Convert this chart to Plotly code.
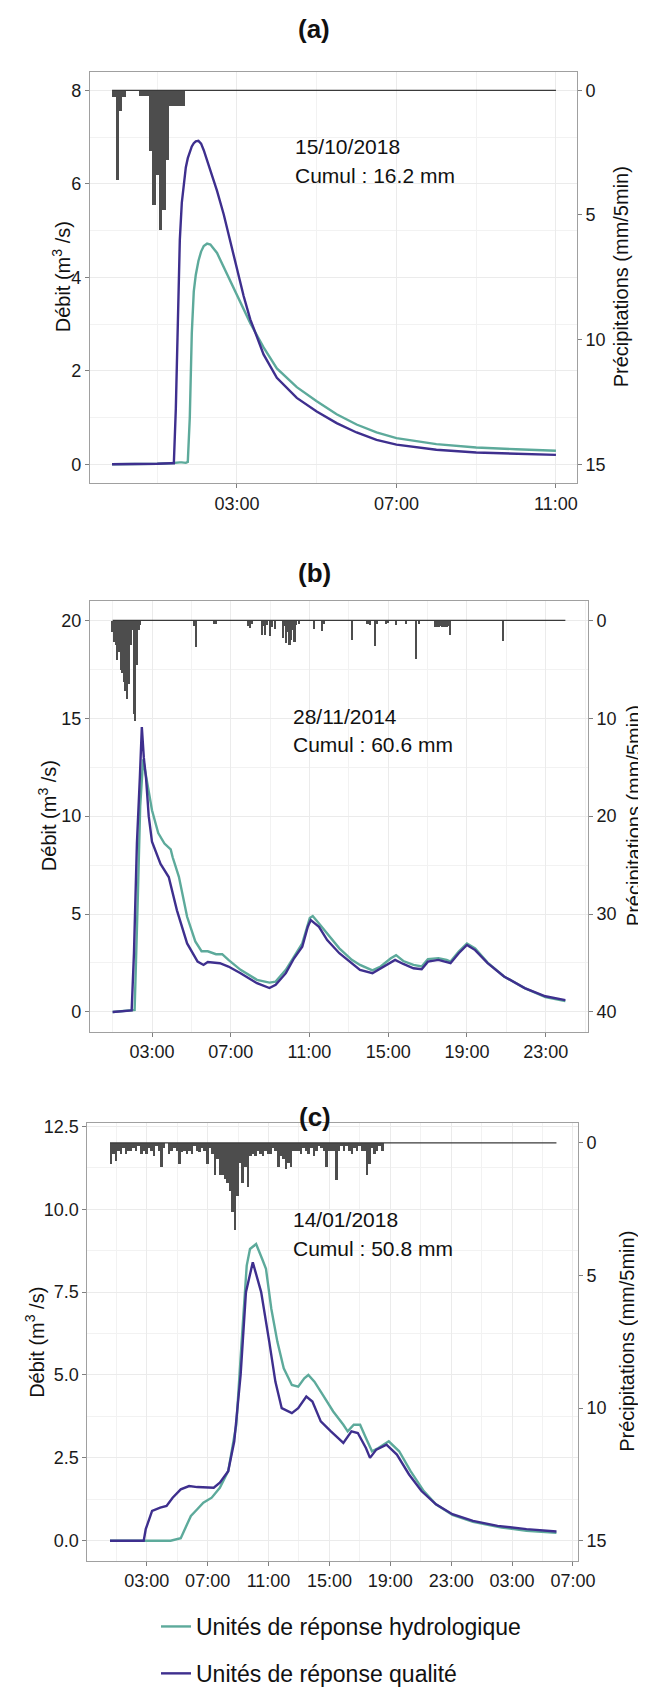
import plotly.graph_objects as go
import pandas as pd

FONT = "Liberation Sans, Arial, sans-serif"
TEAL = "#5DAA9B"
PURPLE = "#3E2F8E"
RAIN_COLOR = "#4D4D4D"
W, H = 646, 1687

# ---------------- data: panel (a) 15/10/2018 ----------------
A_BASE = "2018-10-15"
A_TIME = ["-1 23:52", "00:30", "01:00", "01:20", "01:25", "01:28", "01:31", "01:34", "01:37", "01:40",
          "01:43", "01:46", "01:49", "01:52", "01:55", "01:58", "02:02", "02:06", "02:10", "02:15",
          "02:20", "02:30", "02:40", "02:50", "03:00", "03:10", "03:20", "03:40", "04:00", "04:30",
          "05:00", "05:30", "06:00", "06:30", "07:00", "08:00", "09:00", "10:00", "11:00"]
A_QUAL = [0, 0, 0.01, 0.02, 0.02, 1.2, 3.2, 4.8, 5.6, 6.05,
          6.35, 6.55, 6.7, 6.8, 6.87, 6.91, 6.92, 6.86, 6.72, 6.5,
          6.25, 5.85, 5.35, 4.75, 4.2, 3.6, 3.1, 2.35, 1.85, 1.42,
          1.13, 0.88, 0.68, 0.52, 0.42, 0.31, 0.25, 0.22, 0.2]
A_HYD = [0, 0, 0.01, 0.02, 0.03, 0.04, 0.04, 0.04, 0.04, 0.03,
         0.03, 0.05, 1.0, 2.8, 3.7, 4.05, 4.35, 4.55, 4.67, 4.72,
         4.7, 4.52, 4.22, 3.92, 3.6, 3.3, 3.02, 2.5, 2.05, 1.65,
         1.35, 1.07, 0.85, 0.68, 0.56, 0.43, 0.36, 0.32, 0.29]
A_RAIN_T = ["-1 23:55", "00:00", "00:05", "00:10", "00:35", "00:40", "00:45", "00:50", "00:55",
            "01:00", "01:05", "01:10", "01:15", "01:20", "01:25", "01:30", "01:35", "01:40"]
A_RAIN = [0.25, 3.6, 0.8, 0.25, 0.2, 0.2, 0.2, 2.4, 4.6,
          3.4, 5.6, 4.8, 2.8, 0.6, 0.6, 0.6, 0.6, 0.6]

# ---------------- data: panel (b) 28/11/2014 ----------------
B_BASE = "2014-11-28"
B_T_QUAL = ["01:00", "01:50", "01:58", "02:05", "02:14", "02:23", "02:29", "02:35", "02:42", "02:50",
            "03:00", "03:26", "03:51", "04:16", "04:47", "05:19", "05:37", "05:50", "06:27", "06:53",
            "07:30", "08:20", "08:58", "09:17", "09:48", "10:13", "10:38", "10:55", "11:04", "11:29",
            "11:54", "12:31", "13:09", "13:34", "14:12", "14:37", "15:08", "15:21", "15:46", "16:17",
            "16:42", "17:01", "17:33", "17:58", "18:10", "18:35", "19:00", "19:25", "20:03", "20:53",
            "21:56", "22:59", "+1 00:00"]
B_QUAL = [0, 0.05, 0.08, 3.0, 8.6, 12.0, 14.55, 13.0, 11.9, 10.0,
          8.7, 7.56, 6.89, 5.19, 3.5, 2.57, 2.4, 2.55, 2.49, 2.32,
          1.98, 1.47, 1.22, 1.39, 1.98, 2.74, 3.33, 4.35, 4.69, 4.35,
          3.67, 3.0, 2.49, 2.15, 1.98, 2.23, 2.57, 2.66, 2.45, 2.23,
          2.18, 2.57, 2.66, 2.57, 2.49, 3.0, 3.42, 3.16, 2.49, 1.81,
          1.22, 0.8, 0.6]
B_T_HYD = ["01:00", "02:07", "02:17", "02:24", "02:33", "02:42", "03:00", "03:19", "03:38", "03:57",
           "04:03", "04:22", "04:47", "05:12", "05:31", "05:50", "06:15", "06:34", "06:53", "07:30",
           "08:20", "08:58", "09:17", "09:48", "10:13", "10:38", "11:01", "11:10", "11:29", "11:54",
           "12:31", "13:09", "13:34", "14:12", "14:37", "15:08", "15:24", "15:46", "16:17", "16:42",
           "17:01", "17:33", "17:58", "18:10", "18:35", "19:00", "19:25", "20:03", "20:53", "21:56",
           "22:59", "+1 00:00"]
B_HYD = [0, 0.1, 6.0, 10.5, 12.9, 12.0, 10.3, 9.14, 8.6, 8.3,
         7.9, 6.9, 4.86, 3.6, 3.1, 3.1, 2.95, 2.95, 2.66, 2.15,
         1.64, 1.5, 1.55, 2.15, 2.83, 3.5, 4.8, 4.9, 4.52, 4.0,
         3.25, 2.66, 2.4, 2.12, 2.32, 2.74, 2.9, 2.6, 2.4, 2.32,
         2.7, 2.75, 2.66, 2.57, 3.08, 3.5, 3.25, 2.52, 1.81, 1.22,
         0.76, 0.55]
B_RAIN_T = ["01:00", "01:05", "01:10", "01:15", "01:20", "01:25", "01:30", "01:35", "01:40", "01:45",
            "01:50", "01:55", "02:00", "02:05", "02:10", "02:15", "02:20", "02:25",
            "05:10", "05:15", "06:10", "06:15", "07:55", "08:00", "08:05",
            "08:35", "08:40", "08:45", "08:50", "09:00", "09:05", "09:15",
            "09:40", "09:45", "09:50", "09:55", "10:00", "10:05", "10:10", "10:15", "10:20", "10:30",
            "11:15", "11:40", "11:45", "13:10", "13:55", "14:00", "14:05", "14:20", "14:25",
            "14:55", "15:00", "15:25", "15:55", "16:25", "16:35",
            "17:25", "17:30", "17:35", "17:40", "17:45", "17:50", "17:55", "18:00", "18:05", "18:10",
            "20:50"]
B_RAIN = [1.2, 2.2, 2.5, 4.0, 3.2, 5.0, 5.4, 6.3, 7.2, 8.0,
          6.5, 2.5, 1.0, 9.5, 10.3, 4.5, 1.0, 0.5,
          0.6, 2.7, 0.3, 0.3, 0.6, 0.8, 0.4,
          1.5, 0.6, 1.5, 0.5, 1.6, 0.7, 0.9,
          1.8, 0.6, 2.3, 1.2, 2.5, 2.0, 1.0, 2.2, 0.5, 0.4,
          0.9, 1.1, 0.4, 2.0, 0.4, 0.3, 0.5, 2.6, 0.4,
          0.3, 0.2, 0.5, 0.4, 3.9, 0.4,
          0.7, 0.7, 0.7, 0.6, 0.7, 0.7, 0.7, 0.7, 0.6, 1.5,
          2.1]

# ---------------- data: panel (c) 14/01/2018 ----------------
C_BASE = "2018-01-14"
C_T_QUAL = ["00:35", "02:48", "02:56", "03:21", "03:53", "04:18", "04:42", "05:14", "05:47", "06:19",
            "07:24", "07:48", "08:21", "08:45", "09:10", "09:31", "09:58", "10:31", "11:03", "11:27",
            "11:52", "12:32", "12:57", "13:29", "13:53", "14:26", "15:06", "15:55", "16:27", "16:52",
            "17:24", "17:40", "18:05", "18:45", "19:26", "20:14", "21:03", "22:00", "23:05", "+1 00:26",
            "+1 02:03", "+1 03:57", "+1 05:55"]
C_QUAL = [0, 0, 0.35, 0.9, 1.0, 1.05, 1.3, 1.55, 1.65, 1.62,
          1.6, 1.75, 2.1, 3.0, 5.0, 7.5, 8.4, 7.5, 6.0, 4.8,
          4.0, 3.85, 4.0, 4.35, 4.2, 3.6, 3.3, 2.95, 3.3, 3.25,
          2.8, 2.5, 2.75, 2.9, 2.6, 2.0, 1.5, 1.1, 0.8, 0.6,
          0.45, 0.35, 0.28]
C_T_HYD = ["00:35", "04:34", "05:14", "05:38", "05:54", "06:19", "06:43", "07:16", "07:48", "08:21",
           "08:53", "09:14", "09:34", "09:47", "10:11", "10:35", "10:50", "11:11", "11:35", "12:00",
           "12:32", "12:57", "13:21", "13:37", "14:01", "14:34", "15:15", "15:55", "16:12", "16:36",
           "17:01", "17:24", "17:48", "18:13", "18:54", "19:35", "20:20", "21:12", "22:00", "23:05",
           "+1 00:26", "+1 02:19", "+1 03:57", "+1 05:55"]
C_HYD = [0, 0, 0.08, 0.5, 0.75, 0.95, 1.15, 1.3, 1.6, 2.1,
         3.5, 6.0, 8.3, 8.8, 8.95, 8.5, 8.2, 7.0, 6.0, 5.2,
         4.7, 4.65, 4.9, 5.0, 4.8, 4.4, 3.9, 3.5, 3.3, 3.5,
         3.5, 3.1, 2.7, 2.8, 3.0, 2.7, 2.1, 1.5, 1.1, 0.78,
         0.57, 0.4, 0.3, 0.24]
C_RAIN_T = ["00:40", "00:50",
            "01:00", "01:10", "01:20", "01:30", "01:40", "01:50",
            "02:00", "02:10", "02:20", "02:30", "02:40", "02:50",
            "03:00", "03:10", "03:20", "03:30", "03:40", "03:50",
            "04:00", "04:10", "04:20", "04:30", "04:40", "04:50",
            "05:00", "05:10", "05:20", "05:30", "05:40", "05:50",
            "06:00", "06:10", "06:20", "06:30", "06:40", "06:50",
            "07:00", "07:10", "07:20", "07:30", "07:40", "07:50",
            "08:00", "08:10", "08:20", "08:30", "08:40", "08:50",
            "09:00", "09:10", "09:20", "09:30", "09:40", "09:50",
            "10:00", "10:10", "10:20", "10:30", "10:40", "10:50",
            "11:00", "11:10", "11:20", "11:30", "11:40", "11:50",
            "12:00", "12:10", "12:20", "12:30", "12:40", "12:50",
            "13:00", "13:10", "13:20", "13:30", "13:40", "13:50",
            "14:00", "14:10", "14:20", "14:30", "14:40", "14:50",
            "15:00", "15:10", "15:20", "15:30", "15:40", "15:50",
            "16:00", "16:10", "16:20", "16:30", "16:40", "16:50",
            "17:00", "17:10", "17:20", "17:30", "17:40", "17:50",
            "18:00", "18:10", "18:20", "18:30"]
C_RAIN = [0.8, 0.4,
          0.7, 0.3, 0.4, 0.2, 0.4, 0.3,
          0.3, 0.2, 0.3, 0.1, 0.4, 0.3,
          0.4, 0.2, 0.3, 0.5, 0.1, 0.3,
          0.9, 0.2, 0.0, 0.4, 0.3, 0.2,
          0.3, 0.8, 0.35, 0.3, 0.4, 0.3,
          0.4, 0.1, 0.3, 0.35, 0.2, 0.3,
          0.8, 0.2, 0.4, 1.2, 0.6, 1.2,
          1.2, 1.35, 1.5, 1.8, 2.6, 3.3,
          2.0, 0.75, 1.5, 0.9, 1.65, 0.5,
          0.4, 0.5, 0.3, 0.4, 0.5, 0.3,
          0.4, 0.4, 0.2, 0.3, 0.9, 0.5,
          0.6, 1.0, 0.75, 0.9, 0.3, 0.3,
          0.3, 0.4, 0.2, 0.3, 0.4, 0.2,
          0.5, 0.3, 0.1, 0.2, 0.3, 0.9,
          0.3, 0.3, 0.3, 1.4, 0.3, 0.1,
          0.3, 0.1, 0.3, 0.4, 0.2, 0.3,
          0.1, 0.3, 0.3, 1.2, 0.8, 0.2,
          0.4, 0.3, 0.1, 0.3]

TITLES = ["(a)", "(b)", "(c)"]
DATES = ["15/10/2018", "28/11/2014", "14/01/2018"]
CUMULS = ["Cumul : 16.2 mm", "Cumul : 60.6 mm", "Cumul : 50.8 mm"]
LEGEND_NAMES = ["Unités de réponse hydrologique", "Unités de réponse qualité"]


def ts(base, clocks):
    out = []
    for c in clocks:
        days = 0
        if " " in c:
            d, c = c.split(" ")
            days = int(d)
        h, m = c.split(":")
        out.append(pd.Timestamp(base) + pd.Timedelta(days=days, hours=int(h), minutes=int(m)))
    return out


panels = [
    dict(base=A_BASE, th=A_TIME, qh=A_HYD, tq=A_TIME, qq=A_QUAL, rt=A_RAIN_T, r=A_RAIN, rw=5,
         yrange=[-0.4, 8.4], ytick=[0, 2, 4, 6, 8], ydt=1, yfmt=None, qtop=8, rbot=15, rtick=[0, 5, 10, 15],
         xrange=["2018-10-14 23:18:50", "2018-10-15 11:31:40"], tick0="2018-10-15 03:00",
         px=(82, 569), py=(64, 477.5)),
    dict(base=B_BASE, th=B_T_HYD, qh=B_HYD, tq=B_T_QUAL, qq=B_QUAL, rt=B_RAIN_T, r=B_RAIN, rw=5,
         yrange=[-1, 21], ytick=[0, 5, 10, 15, 20], ydt=2.5, yfmt=None, qtop=20, rbot=40,
         rtick=[0, 10, 20, 30, 40],
         xrange=["2014-11-27 23:51", "2014-11-29 01:09"], tick0="2014-11-28 03:00",
         px=(82, 580), py=(596, 1029)),
    dict(base=C_BASE, th=C_T_HYD, qh=C_HYD, tq=C_T_QUAL, qq=C_QUAL, rt=C_RAIN_T, r=C_RAIN, rw=10,
         yrange=[-0.6, 12.6], ytick=[0, 2.5, 5, 7.5, 10, 12.5], ydt=1.25, yfmt=".1f", qtop=12, rbot=15,
         rtick=[0, 5, 10, 15],
         xrange=["2018-01-13 23:06", "2018-01-15 07:20"], tick0="2018-01-14 03:00",
         px=(79.4, 570), py=(1121, 1561)),
]

# annotation placements (pixels)
TITLE_POS = [(306, 21), (306, 568), (307, 1115)]
TEXT_POS = [((285, 139), (285, 168)), ((283, 712), (283, 740)), ((283, 1218), (283, 1247))]
YTITLE_L = [53, 39, 27]
YTITLE_R = [613, 626, 619]


def fx(p):
    return p / W


def fy(p):
    return 1 - p / H


fig = go.Figure()
layout = dict(width=W, height=H, autosize=False, margin=dict(l=0, r=0, t=0, b=0),
              paper_bgcolor="white", plot_bgcolor="white",
              font=dict(family=FONT, size=18, color="#1A1A1A"), showlegend=True)
annotations = []

HOUR = 3600 * 1000
for i, p in enumerate(panels):
    xn = "x" if i == 0 else f"x{i + 1}"
    yl = "y" if i == 0 else f"y{2 * i + 1}"
    yr = f"y{2 * i + 2}"
    xkey = "xaxis" if i == 0 else f"xaxis{i + 1}"
    ylkey = "yaxis" if i == 0 else f"yaxis{2 * i + 1}"
    yrkey = f"yaxis{2 * i + 2}"

    rain_t = ts(p["base"], p["rt"])
    th = ts(p["base"], p["th"])
    tq = ts(p["base"], p["tq"])

    # precipitation bars (secondary, reversed axis)
    fig.add_trace(go.Bar(x=rain_t, y=p["r"], width=[p["rw"] * 60 * 1000] * len(rain_t),
                         marker=dict(color=RAIN_COLOR, line=dict(width=0)),
                         xaxis=xn, yaxis=yr, showlegend=False, hoverinfo="skip"))
    # zero baseline of precipitation
    fig.add_trace(go.Scatter(x=[min(th[0], tq[0]), max(th[-1], tq[-1])], y=[0, 0], mode="lines",
                             line=dict(color="#3A3A3A", width=1.2), xaxis=xn, yaxis=yr,
                             showlegend=False, hoverinfo="skip"))
    # discharge lines
    fig.add_trace(go.Scatter(x=th, y=p["qh"], mode="lines", line=dict(color=TEAL, width=2.4),
                             name=LEGEND_NAMES[0], legendgroup="hyd", showlegend=(i == 0),
                             xaxis=xn, yaxis=yl))
    fig.add_trace(go.Scatter(x=tq, y=p["qq"], mode="lines", line=dict(color=PURPLE, width=2.4),
                             name=LEGEND_NAMES[1], legendgroup="qual", showlegend=(i == 0),
                             xaxis=xn, yaxis=yl))

    xdom = [fx(p["px"][0]), fx(p["px"][1])]
    ydom = [fy(p["py"][1]), fy(p["py"][0])]
    lo, hi = p["yrange"]
    k = p["rbot"] / p["qtop"]
    rrange = [(p["qtop"] - lo) * k, (p["qtop"] - hi) * k]

    layout[xkey] = dict(domain=xdom, anchor=yl, type="date", range=p["xrange"],
                        tickformat="%H:%M", dtick=4 * HOUR, tick0=p["tick0"],
                        showgrid=True, gridcolor="#EBEBEB", gridwidth=1.1,
                        minor=dict(dtick=2 * HOUR, tick0=p["tick0"], showgrid=True,
                                   gridcolor="#F2F2F2", gridwidth=0.7, ticks=""),
                        ticks="outside", ticklen=4, tickcolor="#7F7F7F", tickwidth=1,
                        tickfont=dict(size=18, color="#1A1A1A", family=FONT),
                        showline=True, mirror=True, linecolor="#A0A0A0", linewidth=1.2,
                        zeroline=False, automargin=False, fixedrange=True)
    yl_dict = dict(domain=ydom, anchor=xn, range=p["yrange"], tickvals=p["ytick"],
                   showgrid=True, gridcolor="#EBEBEB", gridwidth=1.1,
                   minor=dict(dtick=p["ydt"], tick0=0, showgrid=True, gridcolor="#F2F2F2",
                              gridwidth=0.7, ticks=""),
                   ticks="outside", ticklen=4, tickcolor="#7F7F7F", tickwidth=1,
                   tickfont=dict(size=18, color="#1A1A1A", family=FONT),
                   showline=True, mirror=True, linecolor="#A0A0A0", linewidth=1.2,
                   zeroline=False, automargin=False, fixedrange=True)
    if p["yfmt"]:
        yl_dict["tickformat"] = p["yfmt"]
    layout[ylkey] = yl_dict
    layout[yrkey] = dict(overlaying=yl, side="right", anchor=xn, range=rrange,
                         tickvals=p["rtick"], showgrid=False, zeroline=False, showline=False,
                         ticks="outside", ticklen=4, tickcolor="#7F7F7F", tickwidth=1,
                         tickfont=dict(size=18, color="#1A1A1A", family=FONT),
                         automargin=False, fixedrange=True)

    # panel title
    tx, ty = TITLE_POS[i]
    annotations.append(dict(text=f"<b>{TITLES[i]}</b>", x=fx(tx), y=fy(ty), xref="paper", yref="paper",
                            showarrow=False, xanchor="center", yanchor="middle",
                            font=dict(size=26, family=FONT, color="#111111")))
    # event date and cumulative rain
    (dx, dy), (cx, cy) = TEXT_POS[i]
    annotations.append(dict(text=DATES[i], x=fx(dx), y=fy(dy), xref="paper", yref="paper",
                            showarrow=False, xanchor="left", yanchor="middle",
                            font=dict(size=21, family=FONT, color="#111111")))
    annotations.append(dict(text=CUMULS[i], x=fx(cx), y=fy(cy), xref="paper", yref="paper",
                            showarrow=False, xanchor="left", yanchor="middle",
                            font=dict(size=21, family=FONT, color="#111111")))
    # axis titles
    ymid = (p["py"][0] + p["py"][1]) / 2
    annotations.append(dict(text="Débit (m<sup>3</sup> /s)", x=fx(YTITLE_L[i]), y=fy(ymid),
                            xref="paper", yref="paper", showarrow=False, textangle=-90,
                            xanchor="center", yanchor="middle",
                            font=dict(size=20, family=FONT, color="#111111")))
    annotations.append(dict(text="Précipitations (mm/5min)", x=fx(YTITLE_R[i]), y=fy(ymid),
                            xref="paper", yref="paper", showarrow=False, textangle=-90,
                            xanchor="center", yanchor="middle",
                            font=dict(size=20, family=FONT, color="#111111")))

layout["annotations"] = annotations
layout["legend"] = dict(x=fx(148), y=fy(1606), xanchor="left", yanchor="top",
                        orientation="v", traceorder="grouped", tracegroupgap=14, itemwidth=30,
                        font=dict(size=23, family=FONT, color="#111111"),
                        bgcolor="rgba(0,0,0,0)", borderwidth=0)
layout["bargap"] = 0
fig.update_layout(**layout)

fig.write_html("out.html")
